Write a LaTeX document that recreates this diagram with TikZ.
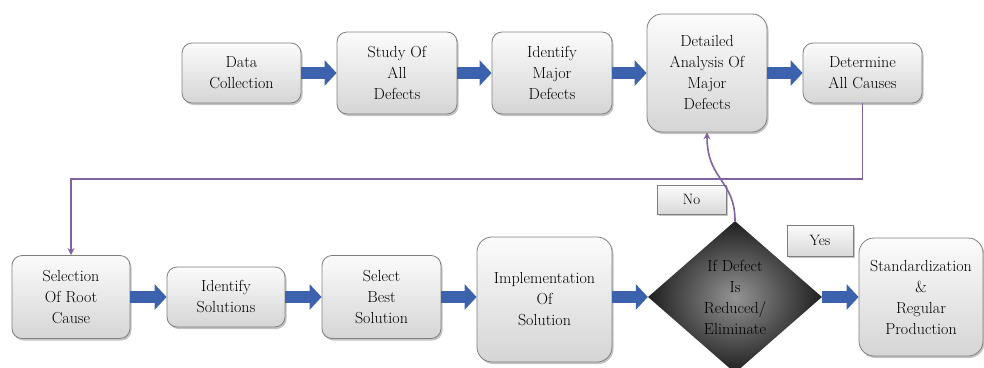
\documentclass[tikz,border=0pt]{standalone}
\usetikzlibrary{shapes.geometric,arrows.meta,shadows}
\definecolor{boxline}{HTML}{7F7F7F}
\definecolor{purp}{HTML}{8064A2}
\definecolor{arrblue}{HTML}{3D62AD}
\definecolor{shadowc}{HTML}{C4C4C4}
\begin{document}
\begin{tikzpicture}[x=1pt,y=-1pt,
  box/.style={draw=boxline, line width=0.8pt, rounded corners=10pt,
    top color=gray!3, bottom color=gray!33,
    drop shadow={fill=shadowc, opacity=1, shadow xshift=1.5pt, shadow yshift=-2pt},
    align=center, font=\fontsize{16}{21}\selectfont, text=black, inner sep=2pt},
  lab/.style={draw=boxline, line width=0.8pt, top color=gray!3, bottom color=gray!30,
    drop shadow={fill=shadowc, opacity=1, shadow xshift=1.5pt, shadow yshift=-2pt},
    font=\fontsize{15}{19}\selectfont, text=black, inner sep=1pt},
  dec/.style={diamond, minimum width=174pt, minimum height=152pt, inner sep=0pt,
    inner color=black!42, outer color=black!88, align=center,
    font=\fontsize{16}{21}\selectfont, text=black},
  barrow/.style={line width=12pt, arrblue, -{Triangle[length=12pt,width=25pt]}},
  plink/.style={purp, line width=1.6pt, -{Stealth[length=7pt,width=7pt]}}
]
\useasboundingbox (0,0) rectangle (984,367);
% top row
\node[box, minimum width=119pt, minimum height=60pt] (dc) at (241.5,73) {Data\\Collection};
\node[box, minimum width=120pt, minimum height=82pt] (sd) at (397,73) {Study Of\\All\\Defects};
\node[box, minimum width=120pt, minimum height=82pt] (imd) at (552,73) {Identify\\Major\\Defects};
\node[box, minimum width=120pt, minimum height=118pt, rounded corners=15pt] (da) at (707,73) {Detailed\\Analysis Of\\Major\\Defects};
\node[box, minimum width=119pt, minimum height=60pt] (dac) at (862.5,73) {Determine\\All Causes};
% bottom row
\node[box, minimum width=118pt, minimum height=83pt] (src) at (71,297) {Selection\\Of Root\\Cause};
\node[box, minimum width=118pt, minimum height=60pt] (is) at (226,297) {Identify\\Solutions};
\node[box, minimum width=119pt, minimum height=83pt] (sbs) at (381.5,297) {Select\\Best\\Solution};
\node[box, minimum width=135pt, minimum height=125pt, rounded corners=15pt] (ios) at (544.5,299.5) {Implementation\\Of\\Solution};
\node[dec] (dm) at (735,297) {If Defect\\Is\\Reduced/\\Eliminate};
\node[box, minimum width=124pt, minimum height=118pt, rounded corners=15pt] (std) at (921,297) {Standardization\\\&\\Regular\\Production};
% labels
\node[lab, minimum width=69pt, minimum height=29pt] (no) at (691.5,199.5) {No};
\node[lab, minimum width=66pt, minimum height=31pt] (yes) at (820,240.5) {Yes};
% blue arrows
\draw[barrow] (dc.east) -- (sd.west);
\draw[barrow] (sd.east) -- (imd.west);
\draw[barrow] (imd.east) -- (da.west);
\draw[barrow] (da.east) -- (dac.west);
\draw[barrow] (src.east) -- (is.west);
\draw[barrow] (is.east) -- (sbs.west);
\draw[barrow] (sbs.east) -- (sbs.east -| ios.west);
\draw[barrow] (ios.east |- dm.west) -- (dm.west);
\draw[barrow] (dm.east) -- (std.west);
% purple links
\coordinate (lvl) at (0,179);
\draw[plink] (dac.south) -- (dac.south |- lvl) -| (src.north);
\draw[plink] (dm.north) .. controls (735,180) and (707,180) .. (da.south);
\end{tikzpicture}
\end{document}
